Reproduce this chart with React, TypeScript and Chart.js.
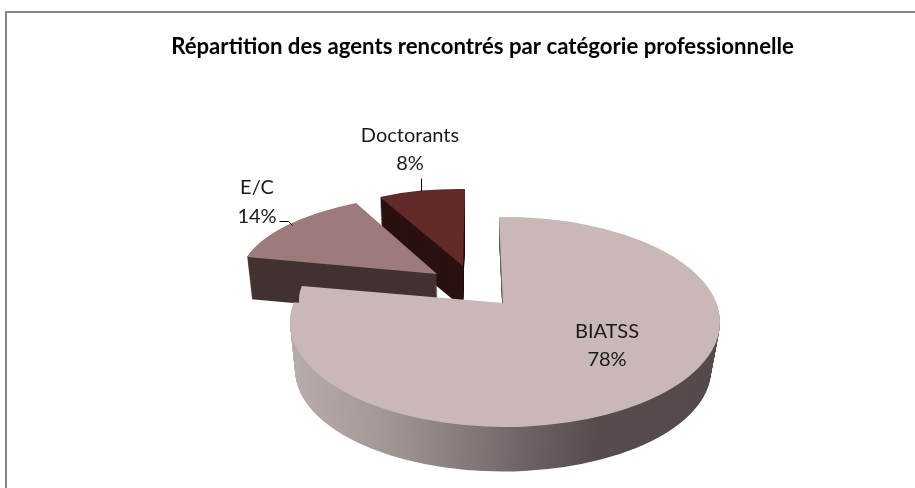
import React, { useEffect, useRef } from "react";
import { Chart, registerables } from "chart.js";

Chart.register(...registerables);

const categories = ["BIATSS", "E/C", "Doctorants"];
const shares = [78, 14, 8];
const topColors = ["#cab8b8", "#9c7b7a", "#632a2a"];
const sideColors = ["", "#423232", "#2a1110"];
const chartTitle = "Répartition des agents rencontrés par catégorie professionnelle";
const FONT = "Lato, Carlito, sans-serif";

// Perspective view of the pie: linear maps from the unit circle of each slice to the page
const views = [
  [
    { a: 215, b: 0, c: 0, d: 105, e: 505, f: 322, inner: false },
    { a: 204, b: 0.9, c: 4, d: 86, e: 503, f: 303, inner: true },
  ],
  [{ a: 196.5, b: 2.1, c: -15.6, d: 79.9, e: 437, f: 274, inner: false }],
  [{ a: 176, b: 3.2, c: -2, d: 77, e: 463, f: 266, inner: false }],
];
const extrusions = [
  { dy: 48, dx: -2, shrink: 0.967 },
  { dy: 42, dx: 1, shrink: 0.98 },
  { dy: 42, dx: 0, shrink: 0.98 },
];
const labelAnchors = [
  { x: 607, y: 332, lh: 28 },
  { x: 257, y: 188, lh: 29 },
  { x: 410, y: 136, lh: 28 },
];
const leaders = [
  [],
  [[279, 221], [288, 221], [292, 225]],
  [[421, 178], [421, 191]],
];
const sideStops: [number, string][] = [
  [0, "#b6acab"],
  [0.21, "#a39a98"],
  [0.47, "#7b7170"],
  [0.53, "#6f6665"],
  [0.72, "#574c4c"],
  [1, "#554a4a"],
];

const pie3d = {
  id: "pie3d",
  beforeDraw(chart: any) {
    const ctx = chart.ctx;
    ctx.save();
    ctx.fillStyle = "#ffffff";
    ctx.fillRect(0, 0, chart.width, chart.height);
    ctx.strokeStyle = "#868686";
    ctx.lineWidth = 2;
    ctx.beginPath();
    ctx.moveTo(6, chart.height);
    ctx.lineTo(6, 12);
    ctx.lineTo(chart.width, 12);
    ctx.stroke();
    ctx.restore();
  },
  beforeDatasetsDraw(chart: any) {
    const ctx = chart.ctx;
    const arcs = chart.getDatasetMeta(0).data;
    const paint = (arc: any, m: any, color: any, dx: number, dy: number, s: number) => {
      const R = arc.outerRadius;
      const x0 = arc.x;
      const y0 = arc.y;
      const a = (m.a * s) / R;
      const b = (m.b * s) / R;
      const c = (m.c * s) / R;
      const d = (m.d * s) / R;
      ctx.save();
      ctx.transform(a, b, c, d, m.e + dx - (a * x0 + c * y0), m.f + dy - (b * x0 + d * y0));
      const saved = arc.options;
      arc.options = { ...saved, backgroundColor: color, borderWidth: 0 };
      arc.draw(ctx);
      arc.options = saved;
      ctx.restore();
    };
    // back to front
    [2, 1, 0].forEach((i) => {
      const arc = arcs[i];
      const ex = extrusions[i];
      let side: any = sideColors[i];
      if (!side) {
        side = ctx.createLinearGradient(arc.x - arc.outerRadius, 0, arc.x + arc.outerRadius, 0);
        sideStops.forEach(([t, col]) => side.addColorStop(t, col));
      }
      for (let k = ex.dy; k >= 1; k--) {
        const t = k / ex.dy;
        views[i].forEach((m) => {
          if (m.inner) {
            if (k <= 20) paint(arc, m, "#6a6160", 0, k, 1);
          } else {
            paint(arc, m, side, ex.dx * t, ex.dy * t, 1 + (ex.shrink - 1) * t);
          }
        });
      }
      views[i].forEach((m) => paint(arc, m, topColors[i], 0, 0, 1));
    });
    // data labels and leader lines
    ctx.save();
    ctx.strokeStyle = "#000000";
    ctx.lineWidth = 1;
    leaders.forEach((pts) => {
      if (!pts.length) return;
      ctx.beginPath();
      pts.forEach(([x, y], j) => (j ? ctx.lineTo(x + 0.5, y + 0.5) : ctx.moveTo(x + 0.5, y + 0.5)));
      ctx.stroke();
    });
    ctx.fillStyle = "#1a1a1a";
    ctx.font = `400 20px ${FONT}`;
    ctx.textAlign = "center";
    ctx.textBaseline = "middle";
    categories.forEach((name, i) => {
      const p = labelAnchors[i];
      ctx.fillText(name, p.x, p.y);
      ctx.fillText(`${shares[i]}%`, p.x, p.y + p.lh);
    });
    ctx.restore();
    return false;
  },
};

export default function App() {
  const ref = useRef<HTMLCanvasElement>(null);
  useEffect(() => {
    document.body.style.margin = "0";
    const chart = new Chart(ref.current as HTMLCanvasElement, {
      type: "pie",
      data: {
        labels: categories,
        datasets: [{ data: shares, backgroundColor: topColors, borderWidth: 0 }],
      },
      options: {
        animation: false,
        responsive: false,
        layout: { padding: { left: 50, right: 0, top: 0, bottom: 0 } },
        plugins: {
          legend: { display: false },
          tooltip: { enabled: false },
          title: {
            display: true,
            text: chartTitle,
            fullSize: false,
            color: "#000000",
            font: { family: FONT, size: 22.2, weight: "bold" },
            padding: { top: 34, bottom: 10 },
          },
        },
      },
      plugins: [pie3d],
    } as any);
    return () => chart.destroy();
  }, []);
  return (
    <div style={{ width: 915, height: 488, overflow: "hidden" }}>
      <canvas ref={ref} width={915} height={488} style={{ display: "block" }} />
    </div>
  );
}
